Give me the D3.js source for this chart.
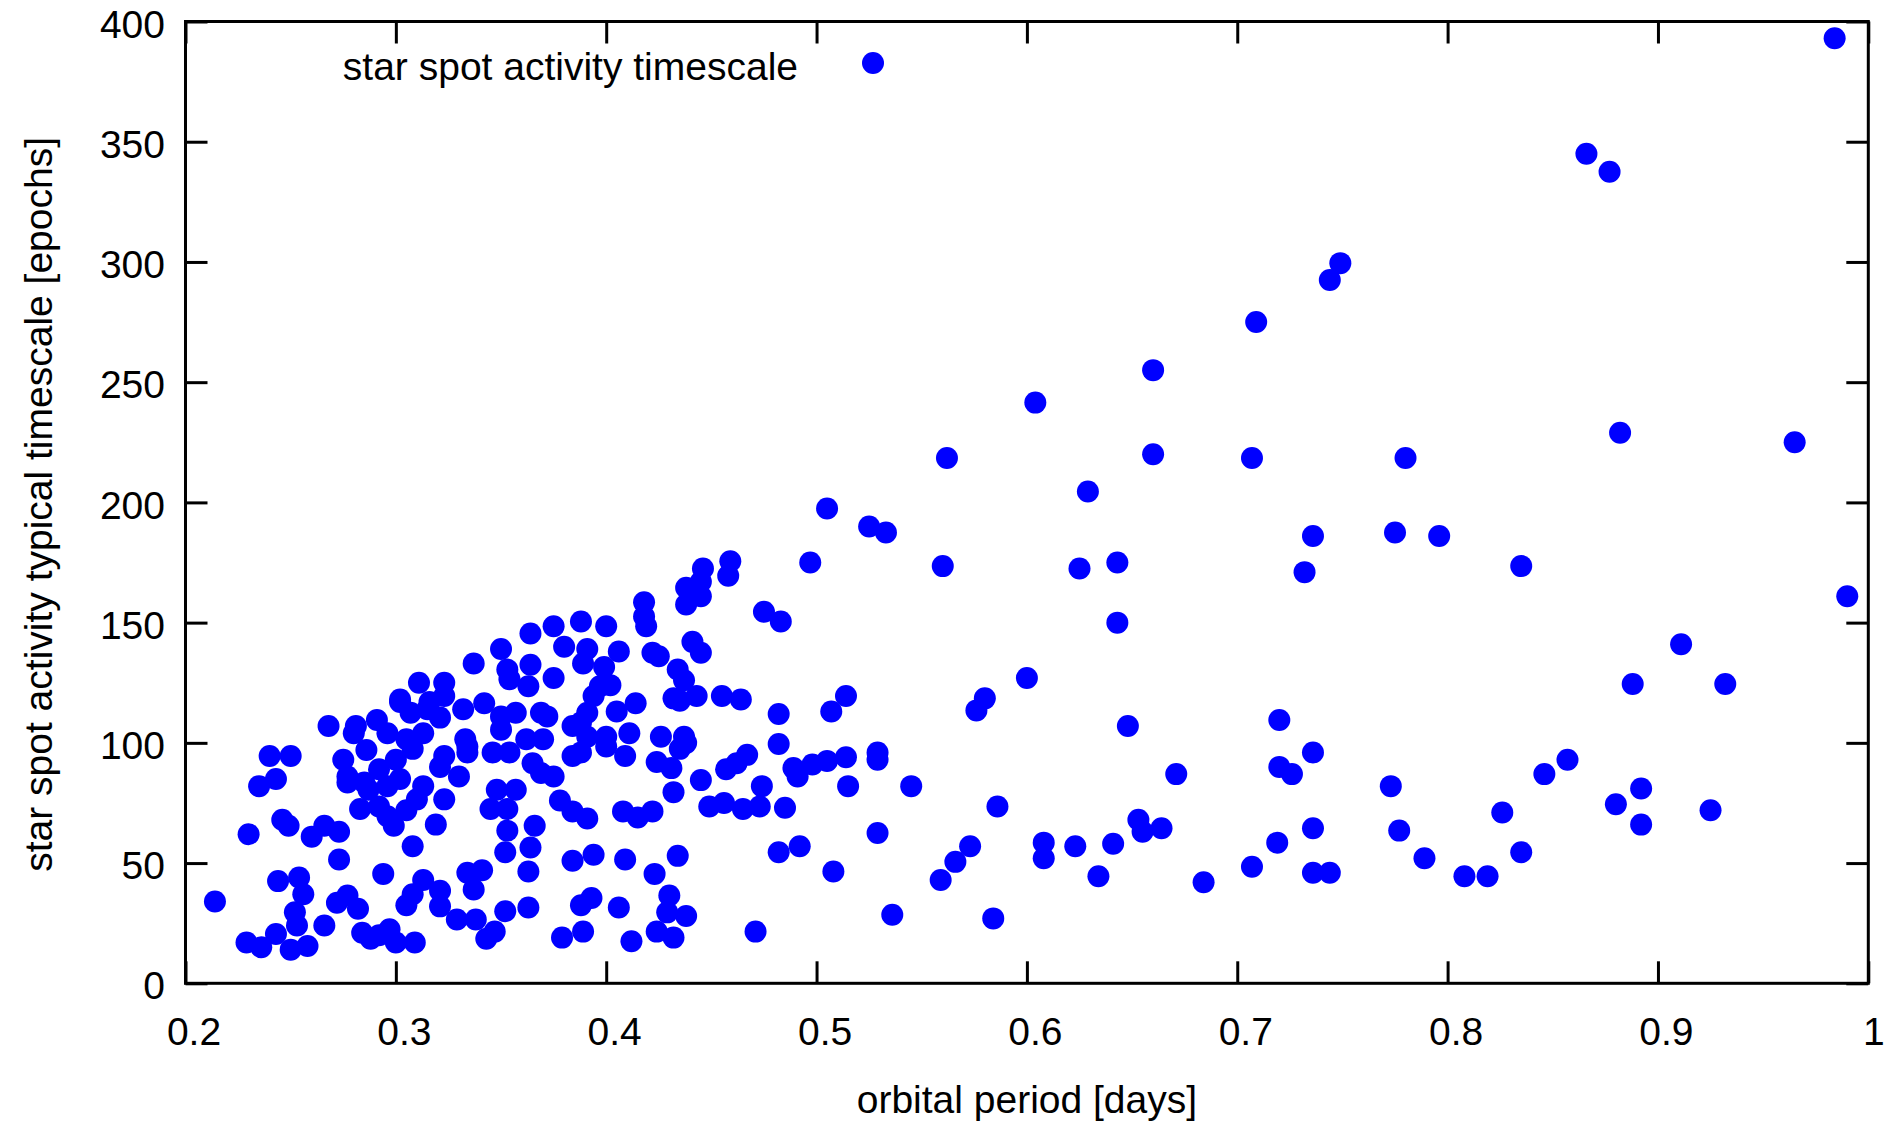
<!DOCTYPE html>
<html>
<head>
<meta charset="utf-8">
<script src="https://cdn.jsdelivr.net/npm/d3@7"></script>
<style>
  html, body { margin: 0; padding: 0; background: #ffffff; }
  svg { display: block; }
</style>
</head>
<body>
<svg id="chart" width="1886" height="1124"></svg>
<script>
// Orbital period [days] and typical star spot activity timescale [epochs], one pair per system
const points = [
  // short periods, below 0.30 d
  [0.214,34],[0.229,17],[0.230,62],[0.235,82],[0.236,15],[0.240,94.5],[0.243,85],[0.243,20.5],
  [0.244,42.5],[0.246,68],[0.249,65.5],[0.250,94.5],[0.250,14],[0.252,29.5],[0.253,24],[0.254,44],
  [0.256,37],[0.258,15.5],[0.260,61],[0.266,65.5],[0.273,63],[0.268,107],[0.273,51.5],[0.266,24],
  [0.272,33.5],[0.277,36.5],[0.282,31],[0.284,21],[0.288,18.5],[0.292,20],[0.297,22.5],[0.300,17],
  [0.294,45.5],[0.283,72.5],[0.275,93],[0.277,83.5],[0.286,97],[0.291,109.5],[0.280,104],[0.296,104],
  [0.277,86],[0.285,83.5],[0.292,89],[0.287,80.5],[0.296,82],[0.292,73.5],[0.296,69.5],[0.299,65.5],
  [0.300,93],[0.281,107],
  // 0.30 - 0.37 d
  [0.305,101.5],[0.308,97.5],[0.313,104],[0.302,85],[0.305,72],[0.310,76.5],[0.313,82],[0.323,94.5],
  [0.321,90],[0.307,112.5],[0.321,110.5],[0.302,117],[0.316,117],[0.332,114],[0.333,101.5],[0.334,96],
  [0.330,86],[0.323,76.5],[0.319,66],[0.308,57],[0.334,46],[0.341,47],[0.321,38.5],[0.308,37],
  [0.321,32],[0.313,43],[0.337,39],[0.329,26.5],[0.338,26.5],[0.343,18.5],[0.347,21.5],[0.352,30],
  [0.363,31.5],[0.305,32.5],[0.309,17],[0.302,118],[0.311,125],[0.323,125],[0.315,114],[0.337,133],
  [0.323,119.5],[0.350,139],[0.353,130.5],[0.364,132.5],[0.364,145.5],[0.354,126.5],[0.363,123.5],
  [0.350,105.5],[0.346,96],[0.354,96],[0.334,98.5],[0.342,116.5],[0.350,111],[0.357,112.5],[0.362,101.5],
  [0.365,91.5],[0.369,87.5],[0.369,112.5],[0.348,80.5],[0.357,80.5],[0.345,72.5],[0.353,72.5],
  [0.353,63.5],[0.366,65.5],[0.352,54.5],[0.364,56.5],[0.363,46.5],
  // 0.37 - 0.51 d
  [0.438,164.5],[0.446,172.5],[0.418,158.5],[0.419,148.5],[0.422,137.5],[0.434,130.5],[0.441,142],
  [0.435,117.5],[0.406,138],[0.400,148.5],[0.388,150.5],[0.375,148.5],[0.380,140],[0.391,139],
  [0.389,133],[0.399,131.5],[0.397,123.5],[0.402,124],[0.388,108.5],[0.384,107],[0.391,102.5],
  [0.400,102.5],[0.405,113],[0.414,116.5],[0.411,104],[0.426,102.5],[0.437,102.5],[0.424,92],
  [0.435,97.5],[0.432,79.5],[0.445,84.5],[0.372,111],[0.370,101.5],[0.384,94.5],[0.375,86],
  [0.375,127],[0.378,76],[0.497,175],[0.459,175.5],[0.458,169.5],[0.445,167],[0.438,157.5],
  [0.445,161],[0.418,152.5],[0.425,136],[0.437,126],[0.475,154.5],[0.483,150.5],[0.445,137.5],
  [0.394,119.5],[0.391,112.5],[0.432,118.5],[0.443,119.5],[0.455,119.5],[0.464,118],[0.482,112],
  [0.507,113],[0.400,98.5],[0.409,94.5],[0.438,100],[0.431,89.5],[0.457,89],[0.467,95],[0.462,91.5],
  [0.482,99.5],[0.489,89.5],[0.491,86],[0.498,91],[0.505,92.5],[0.474,82],[0.388,96],
  [0.408,71.5],[0.415,69],[0.422,71.5],[0.391,68.5],[0.449,73.5],[0.456,75],[0.465,72.5],[0.473,73.5],
  [0.485,73],[0.394,53.5],[0.409,51.5],[0.434,53],[0.423,45.5],[0.482,54.5],[0.492,57],[0.508,46.5],
  [0.393,35.5],[0.388,32.5],[0.406,31.5],[0.430,36.5],[0.429,29.5],[0.438,28],[0.389,21.5],[0.424,21.5],
  [0.432,19],[0.412,17.5],[0.471,21.5],[0.384,71.5],[0.384,51],[0.379,19],
  // longer periods, above 0.51 d
  [0.984,393],[0.866,345],[0.877,337.5],[0.749,299.5],[0.744,292.5],[0.709,275],[0.660,255],[0.604,241.5],
  [0.882,229],[0.965,225],[0.562,218.5],[0.660,220],[0.707,218.5],[0.780,218.5],[0.629,204.5],[0.505,197.5],
  [0.525,190],[0.533,187.5],[0.736,186],[0.775,187.5],[0.796,186],[0.560,173.5],[0.625,172.5],[0.643,175],
  [0.732,171],[0.835,173.5],[0.990,161],[0.643,150],[0.911,141],[0.600,127],[0.888,124.5],[0.932,124.5],
  [0.514,119.5],[0.580,118.5],[0.576,113.5],[0.648,107],[0.720,109.5],[0.736,96],[0.529,96],[0.529,93],
  [0.514,94],[0.720,90],[0.726,87],[0.671,87],[0.857,93],[0.846,87],[0.892,81],[0.773,82],
  [0.545,82],[0.515,82],[0.586,73.5],[0.880,74.5],[0.925,72],[0.826,71],[0.653,68],[0.664,64.5],
  [0.655,63],[0.892,66],[0.736,64.5],[0.777,63.5],[0.529,62.5],[0.608,58.5],[0.641,58],[0.623,57],
  [0.719,58.5],[0.573,57],[0.608,52],[0.566,50.5],[0.789,52],[0.835,54.5],[0.707,48.5],[0.736,46],
  [0.744,46],[0.634,44.5],[0.808,44.5],[0.819,44.5],[0.559,43],[0.684,42],[0.536,28.5],[0.584,27]
];

const xTicks = [0.2, 0.3, 0.4, 0.5, 0.6, 0.7, 0.8, 0.9, 1];
const yTicks = [0, 50, 100, 150, 200, 250, 300, 350, 400];
const xDomain = [0.2, 1];
const yDomain = [0, 400];

const seriesLabel = "star spot activity timescale";
const xTitle = "orbital period [days]";
const yTitle = "star spot activity typical timescale [epochs]";

// ---- layout ----
const FONT = '"Liberation Sans", Arial, sans-serif';
const FS = 39;
const frame = { left: 185.5, right: 1868.3, top: 21.5, bottom: 983.3 };
const tickLen = 22;
const dotR = 11;
const dotColor = "#0000ff";

const x = d3.scaleLinear().domain(xDomain).range([frame.left, frame.right]);
const y = d3.scaleLinear().domain(yDomain).range([frame.bottom, frame.top]);

const svg = d3.select("#chart");
svg.append("rect").attr("width", 1886).attr("height", 1124).attr("fill", "#ffffff");

const fmt = d3.format("~g");

function styleAxis(g) {
  g.attr("font-family", FONT).attr("font-size", FS);
  g.select(".domain").remove();
  g.selectAll(".tick line").attr("stroke", "#000").attr("stroke-width", 3);
  g.selectAll(".tick text").attr("fill", "#000");
}

// bottom axis with labels, ticks pointing inward; labels sit slightly right of their tick
svg.append("g")
  .attr("transform", `translate(0,${frame.bottom})`)
  .call(d3.axisBottom(x).tickValues(xTicks).tickFormat(fmt)
    .tickSize(-tickLen).tickSizeOuter(0).tickPadding(34))
  .call(styleAxis)
  .selectAll(".tick text")
  .attr("dx", (d, i, nodes) => i === nodes.length - 1 ? 5 : 8);

// top mirror ticks
svg.append("g")
  .attr("transform", `translate(0,${frame.top})`)
  .call(d3.axisTop(x).tickValues(xTicks).tickFormat(() => "")
    .tickSize(-tickLen).tickSizeOuter(0))
  .call(styleAxis);

// left axis with labels
svg.append("g")
  .attr("transform", `translate(${frame.left},0)`)
  .call(d3.axisLeft(y).tickValues(yTicks).tickFormat(fmt)
    .tickSize(-tickLen).tickSizeOuter(0).tickPadding(20.5))
  .call(styleAxis)
  .selectAll(".tick text").attr("dy", "0.4em");

// right mirror ticks
svg.append("g")
  .attr("transform", `translate(${frame.right},0)`)
  .call(d3.axisRight(y).tickValues(yTicks).tickFormat(() => "")
    .tickSize(-tickLen).tickSizeOuter(0))
  .call(styleAxis);

// data points
svg.append("g")
  .selectAll("circle")
  .data(points)
  .join("circle")
  .attr("cx", d => x(d[0]))
  .attr("cy", d => y(d[1]))
  .attr("r", dotR)
  .attr("fill", dotColor);

// plot border
svg.append("rect")
  .attr("x", frame.left).attr("y", frame.top)
  .attr("width", frame.right - frame.left)
  .attr("height", frame.bottom - frame.top)
  .attr("fill", "none").attr("stroke", "#000").attr("stroke-width", 3);

// key
const key = svg.append("g").attr("font-family", FONT).attr("font-size", FS);
key.append("text")
  .attr("x", 798).attr("y", 80)
  .attr("text-anchor", "end").attr("fill", "#000")
  .text(seriesLabel);
key.append("circle")
  .attr("cx", 873).attr("cy", 63).attr("r", dotR).attr("fill", dotColor);

// axis titles
svg.append("text")
  .attr("x", (frame.left + frame.right) / 2).attr("y", 1113)
  .attr("text-anchor", "middle")
  .attr("font-family", FONT).attr("font-size", FS).attr("fill", "#000")
  .text(xTitle);

svg.append("text")
  .attr("transform", `translate(52,${(frame.top + frame.bottom) / 2 + 2}) rotate(-90)`)
  .attr("text-anchor", "middle")
  .attr("font-family", FONT).attr("font-size", FS).attr("fill", "#000")
  .text(yTitle);
</script>
</body>
</html>
